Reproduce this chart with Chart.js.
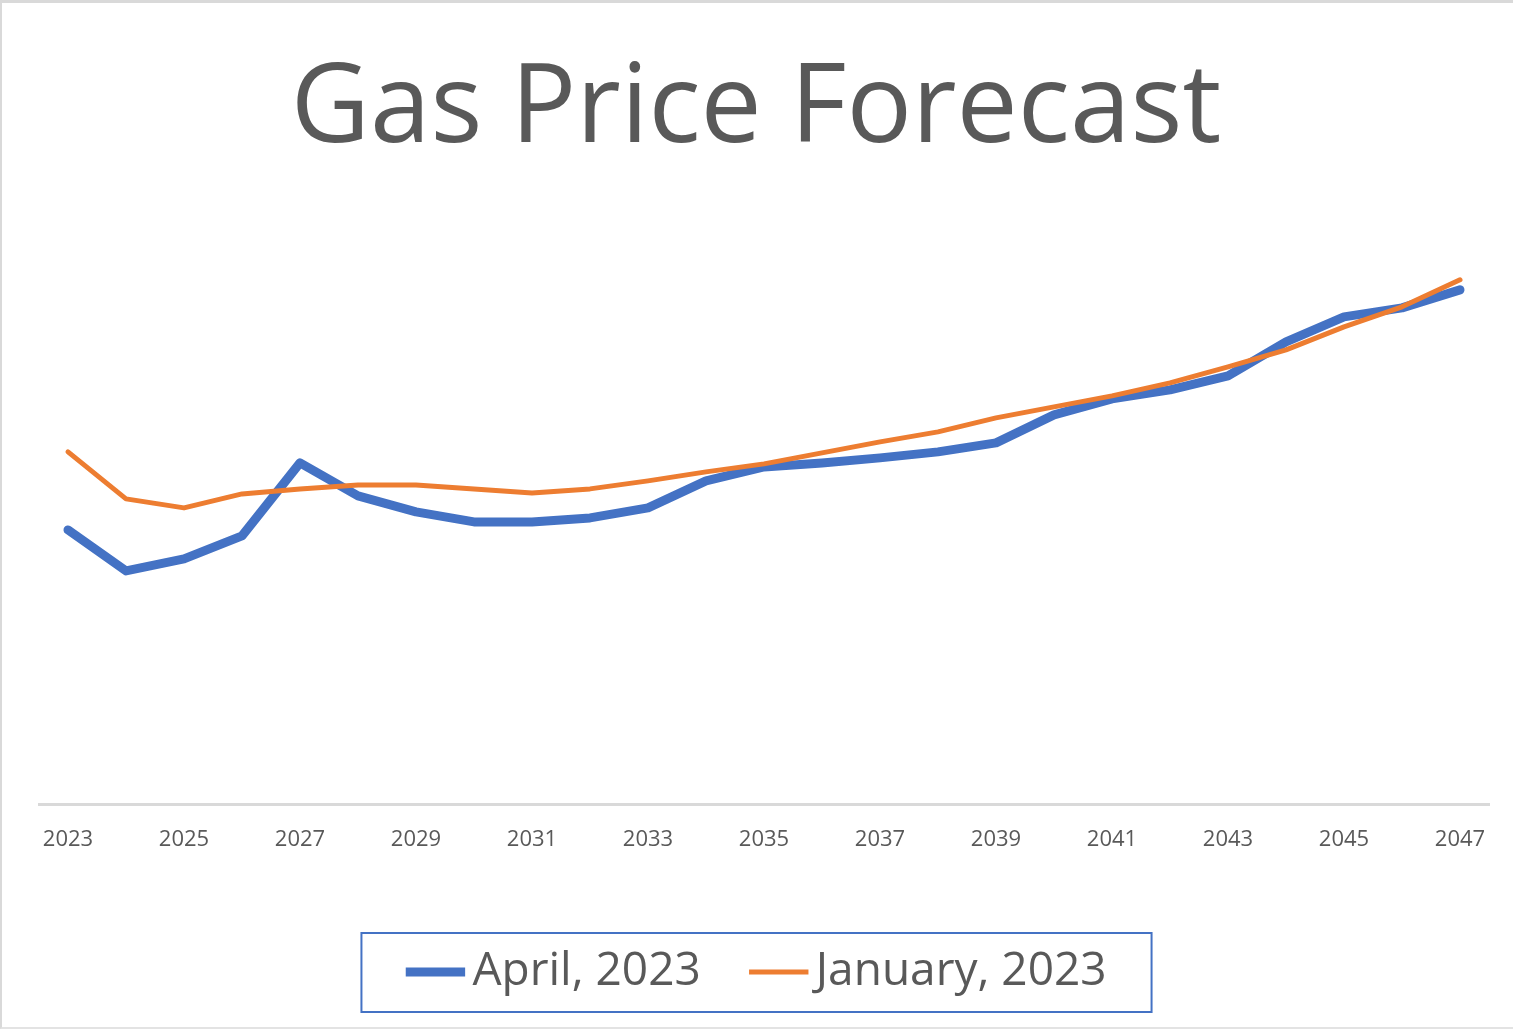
<!DOCTYPE html>
<html>
<head>
<meta charset="utf-8">
<script src="https://cdn.jsdelivr.net/npm/chart.js@4/dist/chart.umd.min.js"></script>
<style>
  html, body { margin: 0; padding: 0; background: #fff; }
  #frame {
    position: absolute; left: 0; top: 0;
    width: 1513px; height: 1029px;
    box-sizing: border-box;
    border-top: 3px solid #d9d9d9;
    border-left: 2px solid #d9d9d9;
    border-bottom: 2px solid #e3e3e3;
  }
  #holder { position: relative; width: 1511px; height: 1024px; }
</style>
</head>
<body>
<div id="frame"><div id="holder"><canvas id="gasChart"></canvas></div></div>
<script>
// years on the x axis
const years = ['2023','2024','2025','2026','2027','2028','2029','2030','2031','2032','2033','2034','2035',
  '2036','2037','2038','2039','2040','2041','2042','2043','2044','2045','2046','2047'];

// forecast values (no axis shown)
const aprilValues = [2.74, 2.33, 2.45, 2.68, 3.41, 3.08, 2.92, 2.82, 2.82, 2.86, 2.96, 3.23, 3.37,
  3.41, 3.46, 3.52, 3.61, 3.89, 4.05, 4.14, 4.28, 4.62, 4.87, 4.96, 5.14];
const januaryValues = [3.52, 3.05, 2.96, 3.10, 3.15, 3.19, 3.19, 3.15, 3.11, 3.15, 3.23, 3.32, 3.40,
  3.51, 3.62, 3.72, 3.86, 3.97, 4.08, 4.21, 4.37, 4.54, 4.77, 4.97, 5.24];

const seriesNames = ['April, 2023', 'January, 2023'];
const textColor = '#595959';
const fontFamily = '"Open Sans", "Noto Sans", sans-serif';

// Excel style box round the legend
const legendBox = {
  id: 'legendBox',
  afterLayout(chart) {
    // title sits centred on the whole frame, not on the padded area
    chart.titleBlock.left -= 8;
    chart.titleBlock.right -= 8;
  },
  afterDraw(chart) {
    const boxes = chart.legend.legendHitBoxes;
    if (!boxes || !boxes.length) return;
    const first = boxes[0];
    const last = boxes[boxes.length - 1];
    const ctx = chart.ctx;
    ctx.save();
    ctx.strokeStyle = '#4472C4';
    ctx.lineWidth = 2;
    const left = first.left - 60;
    const right = last.left + last.width + 45;
    const top = first.top - 16;
    const bottom = first.top + first.height + 17;
    ctx.strokeRect(left, top, right - left, bottom - top);
    ctx.restore();
  }
};

const ctx = document.getElementById('gasChart');

const gasChart = new Chart(ctx, {
  type: 'line',
  data: {
    labels: years,
    datasets: [
      {
        label: seriesNames[0],
        data: aprilValues,
        borderColor: '#4472C4',
        backgroundColor: '#4472C4',
        borderWidth: 9,
        borderCapStyle: 'round',
        borderJoinStyle: 'round',
        pointRadius: 0,
        pointStyle: 'line',
        tension: 0,
        order: 1
      },
      {
        label: seriesNames[1],
        data: januaryValues,
        borderColor: '#ED7D31',
        backgroundColor: '#ED7D31',
        borderWidth: 5,
        borderCapStyle: 'round',
        borderJoinStyle: 'round',
        pointRadius: 0,
        pointStyle: 'line',
        tension: 0,
        order: 0
      }
    ]
  },
  options: {
    responsive: true,
    maintainAspectRatio: false,
    animation: false,
    layout: {
      padding: { top: 0, left: 37, right: 24, bottom: 22 }
    },
    plugins: {
      title: {
        display: true,
        text: 'Gas Price Forecast',
        color: textColor,
        font: { family: fontFamily, size: 109, weight: 'normal' },
        padding: { top: 43, bottom: 27 }
      },
      legend: {
        position: 'bottom',
        labels: {
          usePointStyle: true,
          boxWidth: 28,
          boxHeight: 42,
          padding: 64,
          color: textColor,
          font: { family: fontFamily, size: 46 },
          sort: (a, b) => a.datasetIndex - b.datasetIndex
        }
      },
      tooltip: { enabled: false }
    },
    scales: {
      x: {
        offset: true,
        grid: { display: false, drawTicks: false },
        border: { display: true, color: '#d9d9d9', width: 3 },
        ticks: {
          autoSkip: false,
          maxRotation: 0,
          padding: 23,
          color: textColor,
          font: { family: fontFamily, size: 22 },
          callback: function (value, index) {
            return index % 2 === 0 ? this.getLabelForValue(value) : '';
          }
        },
        afterFit(scale) {
          scale.height = 81;
        }
      },
      y: {
        display: false,
        min: 0,
        max: 6
      }
    }
  },
  plugins: [legendBox]
});
</script>
</body>
</html>
